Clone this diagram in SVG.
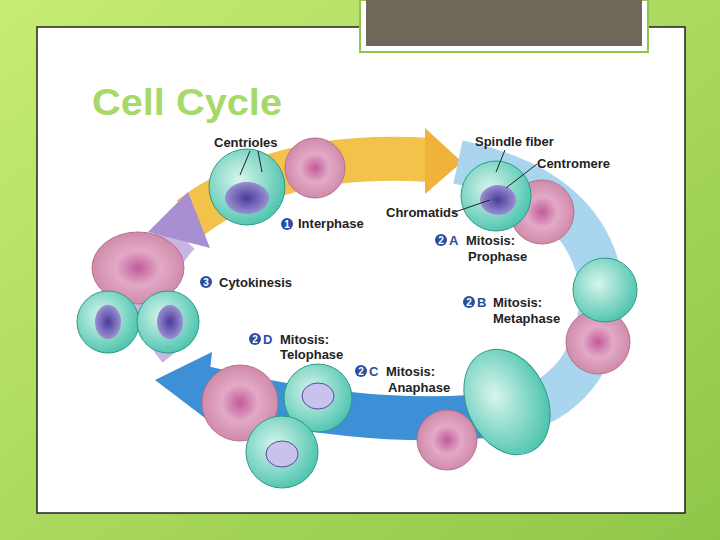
<svg xmlns="http://www.w3.org/2000/svg" width="720" height="540" viewBox="0 0 720 540">
<defs>
<linearGradient id="bg" x1="0" y1="0" x2="1" y2="1"><stop offset="0" stop-color="#c6ec74"/><stop offset="1" stop-color="#8fc64a"/></linearGradient>
<radialGradient id="teal" cx="0.4" cy="0.4" r="0.7"><stop offset="0" stop-color="#d8f5ec"/><stop offset="1" stop-color="#3fbfa8"/></radialGradient>
<radialGradient id="pink" cx="0.5" cy="0.5" r="0.6"><stop offset="0" stop-color="#c25a9a"/><stop offset="0.4" stop-color="#e2a9c6"/><stop offset="1" stop-color="#c9809f"/></radialGradient>
<radialGradient id="nuc" cx="0.5" cy="0.5" r="0.6"><stop offset="0" stop-color="#4a3b9a"/><stop offset="1" stop-color="#a9a0dc"/></radialGradient>
<style>
.lbl{font-family:"Liberation Sans",Arial,sans-serif;font-weight:bold;font-size:13px;fill:#222}
.num{fill:#2a4f9e}
.nt{font-family:"Liberation Sans",Arial,sans-serif;font-weight:bold;font-size:10px;fill:#fff}
.t{fill:url(#teal);stroke:#2a9a88;stroke-width:1}
.p{fill:url(#pink);stroke:#b87090;stroke-width:1}
.n{fill:url(#nuc)}
.ld{stroke:#222;stroke-width:1;fill:none}
</style>
</defs>
<rect width="720" height="540" fill="url(#bg)"/>
<rect x="37" y="27" width="648" height="486" fill="#fff" stroke="#222" stroke-width="1.5"/>
<rect x="360" y="0" width="288" height="52" fill="#fff" stroke="#8fc64a" stroke-width="2"/>
<rect x="366" y="0" width="276" height="46" fill="#6f685a"/>
<text x="92" y="115" font-family="Liberation Sans,Arial,sans-serif" font-weight="bold" font-size="37" textLength="190" lengthAdjust="spacingAndGlyphs" fill="#a6d86a">Cell Cycle</text>
<g id="band">
<path d="M190 218 Q280 150 430 160" stroke="#f2c24a" stroke-width="44" fill="none"/>
<polygon points="425,128 462,162 425,194" fill="#f0b23a"/>
<path d="M458 162 Q590 190 602 290 Q600 385 520 412" stroke="#a9d6ee" stroke-width="44" fill="none"/>
<path d="M520 412 Q380 432 205 388" stroke="#3d8fd6" stroke-width="44" fill="none"/>
<polygon points="212,352 155,380 205,418" fill="#3d8fd6"/>
<path d="M178 350 Q128 290 180 235" stroke="#c7b6e0" stroke-width="40" fill="none"/>
<polygon points="148,232 188,192 210,248" fill="#a88fd2"/>
</g>
<g id="interphase"><circle cx="315" cy="168" r="30" class="p"/><circle cx="247" cy="187" r="38" class="t"/><ellipse cx="247" cy="198" rx="22" ry="16" class="n"/></g>
<g id="prophase"><circle cx="542" cy="212" r="32" class="p"/><circle cx="496" cy="196" r="35" class="t"/><ellipse cx="498" cy="200" rx="18" ry="15" class="n"/></g>
<g id="metaphase"><circle cx="598" cy="342" r="32" class="p"/><circle cx="605" cy="290" r="32" class="t"/></g>
<g id="anaphase"><circle cx="447" cy="440" r="30" class="p"/><ellipse cx="507" cy="402" rx="40" ry="55" transform="rotate(-25 507 402)" class="t"/></g>
<g id="telophase"><circle cx="240" cy="403" r="38" class="p"/><circle cx="318" cy="398" r="34" class="t"/><circle cx="282" cy="452" r="36" class="t"/><ellipse cx="318" cy="396" rx="16" ry="13" fill="#c9c2ec" stroke="#5a4aa0"/><ellipse cx="282" cy="454" rx="16" ry="13" fill="#c9c2ec" stroke="#5a4aa0"/></g>
<g id="cytokinesis"><ellipse cx="138" cy="268" rx="46" ry="36" class="p"/><circle cx="108" cy="322" r="31" class="t"/><circle cx="168" cy="322" r="31" class="t"/><ellipse cx="108" cy="322" rx="13" ry="17" class="n"/><ellipse cx="170" cy="322" rx="13" ry="17" class="n"/></g>
<g id="labels">
<text x="214" y="147" class="lbl" font-size="11">Centrioles</text>
<path d="M250 151 L240 175 M258 151 L262 172" class="ld"/>
<text x="475" y="146" class="lbl" font-size="11">Spindle fiber</text>
<path d="M505 150 L496 172" class="ld"/>
<text x="537" y="168" class="lbl" font-size="11">Centromere</text>
<path d="M537 164 L506 188" class="ld"/>
<text x="386" y="217" class="lbl" font-size="11">Chromatids</text>
<path d="M452 213 L490 200" class="ld"/>
<circle cx="287" cy="224" r="6" class="num"/><text x="287" y="228" class="nt" text-anchor="middle">1</text>
<text x="298" y="228" class="lbl">Interphase</text>
<circle cx="441" cy="240" r="6" class="num"/><text x="441" y="244" class="nt" text-anchor="middle">2</text>
<text x="449" y="245" class="lbl" style="fill:#2a4f9e">A</text>
<text x="466" y="245" class="lbl">Mitosis:</text><text x="468" y="261" class="lbl">Prophase</text>
<circle cx="206" cy="282" r="6" class="num"/><text x="206" y="286" class="nt" text-anchor="middle">3</text>
<text x="219" y="287" class="lbl">Cytokinesis</text>
<circle cx="469" cy="302" r="6" class="num"/><text x="469" y="306" class="nt" text-anchor="middle">2</text>
<text x="477" y="307" class="lbl" style="fill:#2a4f9e">B</text>
<text x="493" y="307" class="lbl">Mitosis:</text><text x="493" y="323" class="lbl">Metaphase</text>
<circle cx="255" cy="339" r="6" class="num"/><text x="255" y="343" class="nt" text-anchor="middle">2</text>
<text x="263" y="344" class="lbl" style="fill:#2a4f9e">D</text>
<text x="280" y="344" class="lbl">Mitosis:</text><text x="280" y="359" class="lbl">Telophase</text>
<circle cx="361" cy="371" r="6" class="num"/><text x="361" y="375" class="nt" text-anchor="middle">2</text>
<text x="369" y="376" class="lbl" style="fill:#2a4f9e">C</text>
<text x="386" y="376" class="lbl">Mitosis:</text><text x="388" y="392" class="lbl">Anaphase</text>
</g>
</svg>
